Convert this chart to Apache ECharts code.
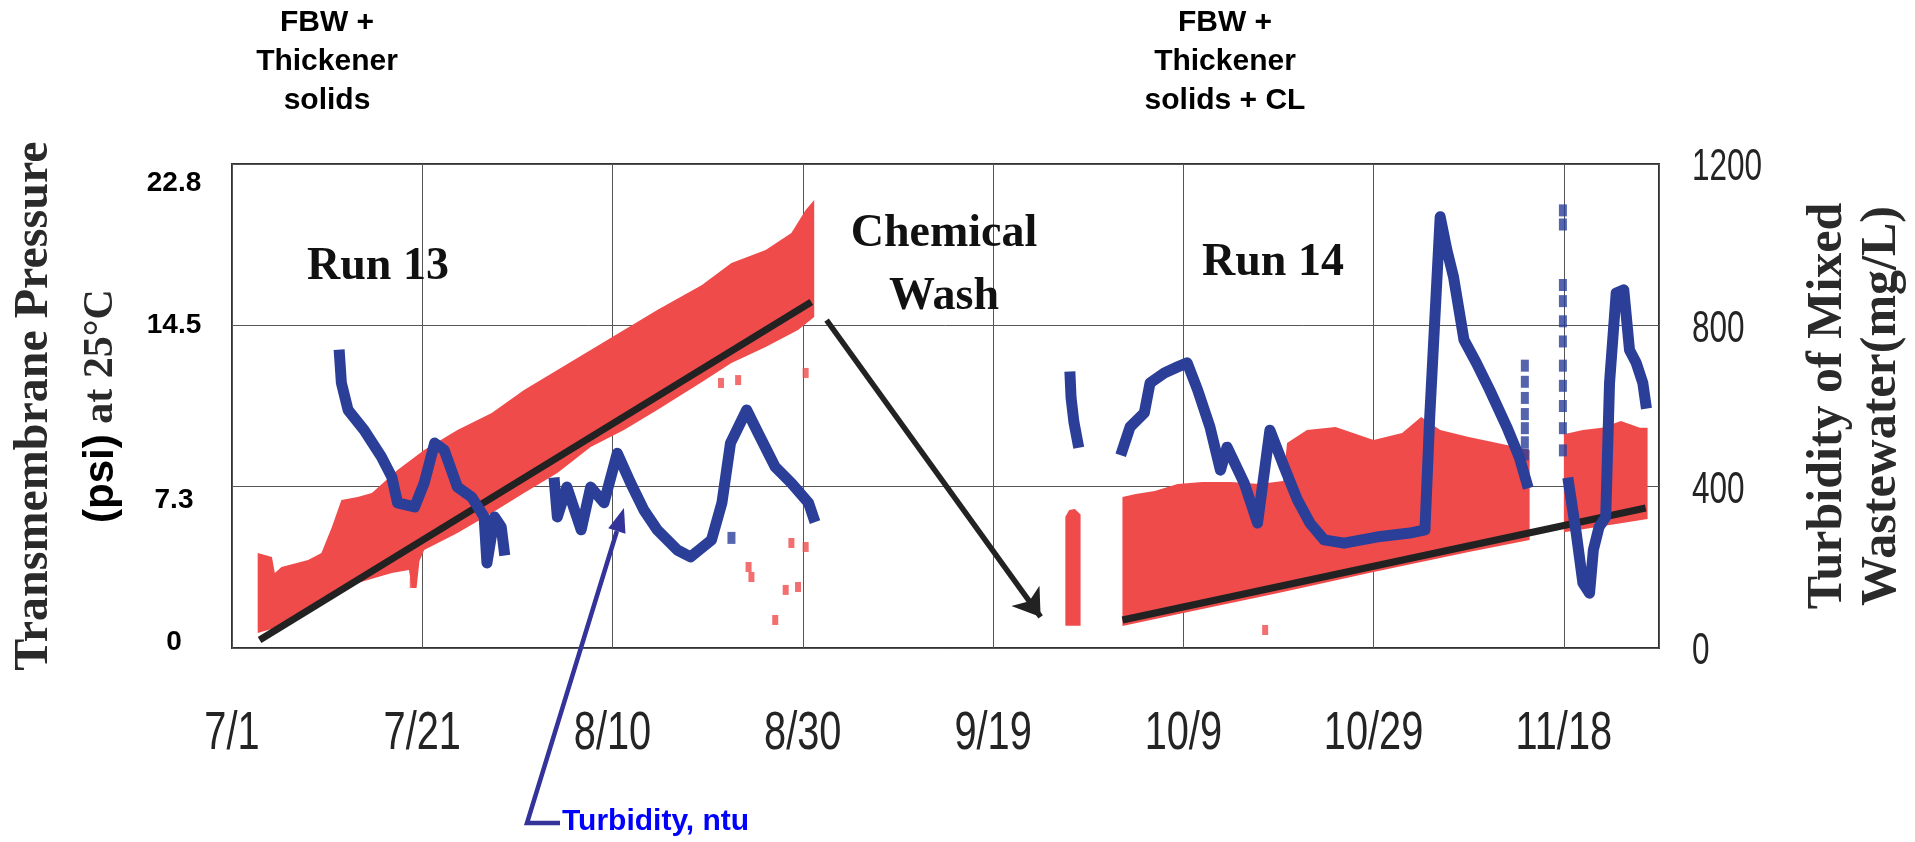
<!DOCTYPE html>
<html>
<head>
<meta charset="utf-8">
<script src="https://cdn.jsdelivr.net/npm/echarts@6/dist/echarts.min.js"></script>
<style>html,body{margin:0;padding:0;background:#fff}#c{width:1915px;height:842px}</style>
</head>
<body>
<div id="c"></div>
<script>
// ---- tick labels ----
const xTickLabels = ['7/1', '7/21', '8/10', '8/30', '9/19', '10/9', '10/29', '11/18']; // every 20 days from 7/1
const leftTickLabels = ['0', '7.3', '14.5', '22.8'];
const rightTickLabels = ['0', '400', '800', '1200'];

// ---- TMP (psi) scatter band, Run 13: [day since 7/1, psi] ----
const tmpRun13Top = [[2.7,4.27],[4.2,4.09],[4.5,3.37],[5.2,3.64],[8.0,3.95],[9.4,4.27],[10.5,5.44],[11.5,6.65],[13.2,6.79],[14.7,6.97],[17.4,8.00],[20.2,8.90],[23.7,9.80],[27.3,10.56],[30.7,11.59],[34.2,12.49],[37.7,13.39],[41.2,14.29],[44.7,15.19],[49.4,16.31],[52.5,17.30],[56.1,17.89],[58.8,18.65],[60.3,19.68],[61.2,20.13]];
const tmpRun13Bottom = [[2.7,0.67],[6.3,1.12],[9.7,2.02],[13.2,2.92],[16.8,3.37],[18.6,3.5],[18.9,2.7],[19.4,2.7],[19.7,3.9],[20.2,4.40],[23.7,5.17],[27.3,6.07],[30.7,6.97],[34.2,7.86],[37.7,9.03],[41.2,9.80],[44.7,10.70],[49.4,11.95],[52.5,12.81],[56.1,13.53],[59.5,14.29],[61.2,14.88]];
// ---- TMP band, short restart after wash ----
const tmpRestartTop = [[87.6,5.9],[88.0,6.2],[88.6,6.25],[89.2,6.0]];
const tmpRestartBottom = [[87.6,1.0],[89.2,1.0]];
// ---- TMP band, Run 14 ----
const tmpRun14Top = [[93.6,6.79],[95.0,6.92],[97.0,7.06],[99.4,7.37],[102.0,7.46],[105.0,7.46],[108.0,7.37],[110.5,7.5],[110.9,9.21],[113.0,9.80],[116.0,9.93],[120.0,9.35],[123.0,9.66],[125.0,10.38],[127.0,9.80],[130.0,9.48],[133.0,9.21],[136.4,8.90]];
const tmpRun14Bottom = [[93.6,0.99],[100.0,1.57],[110.0,2.47],[120.0,3.42],[130.0,4.31],[136.4,4.85]];
const tmpRun14bTop = [[140.0,9.6],[142.0,9.8],[144.0,9.9],[146.0,10.2],[148.0,9.9],[148.8,9.9]];
const tmpRun14bBottom = [[140.0,5.2],[148.8,5.8]];
// ---- isolated TMP points ----
const tmpOutliers = [[19.0,2.92],[51.4,11.91],[53.2,12.04],[60.3,12.36],[54.3,3.64],[54.6,3.19],[58.8,4.72],[60.3,4.54],[58.2,2.61],[59.5,2.74],[57.1,1.26],[108.6,0.81]];

// ---- TMP trend lines ----
const trendRun13 = [[2.9,0.36],[60.9,15.55]];
const trendRun14 = [[93.6,1.26],[148.6,6.29]];

// ---- Turbidity (mg/L) ----
const turbRun13a = [[11.3,726],[11.5,657],[12.2,590],[13.9,540],[15.7,474],[16.8,424],[17.4,360],[19.2,350],[20.2,409],[21.3,508],[22.3,491],[23.7,399],[25.2,374],[26.5,325],[26.8,211],[27.6,325],[28.3,300],[28.6,243]];
const turbRun13b = [[33.9,409],[34.2,325],[35.2,399],[36.7,293],[37.7,399],[39.1,360],[40.5,483],[41.9,409],[43.3,342],[44.7,293],[46.8,243],[48.2,226],[49.1,243],[50.4,268],[51.5,360],[52.4,508],[54.1,590],[55.3,533],[57.1,449],[58.8,409],[60.6,360],[61.1,325]];
const turbRestart = [[88.1,672],[88.2,620],[88.5,560],[88.9,510]];
const turbRun14a = [[93.6,491],[94.4,548],[95.9,583],[96.5,657],[98.0,682],[99.4,697],[100.4,707],[101.5,640],[102.8,548],[103.9,441],[104.6,498],[106.4,409],[107.8,310],[109.1,540],[110.6,449],[112.0,367],[113.3,310],[114.8,268],[116.9,260],[120.3,275],[123.8,285],[125.4,293],[125.9,573],[127.0,1069],[127.7,987],[128.4,920],[129.5,764],[130.8,707],[132.2,640],[134.0,548],[135.3,474],[136.1,409]];
const turbRun14b = [[140.5,409],[141.3,285],[142.0,161],[142.7,136],[143.1,243],[143.7,300],[144.4,325],[144.8,657],[145.5,880],[146.3,888],[146.9,739],[147.6,707],[148.3,657],[148.6,607]];
const turbSparse = [[52.5,273],[135.9,700],[135.9,660],[135.9,620],[135.9,580],[135.9,545],[135.9,510],[135.9,480],[139.9,1085],[139.9,1050],[139.9,900],[139.9,860],[139.9,810],[139.9,760],[139.9,700],[139.9,650],[139.9,600],[139.9,545],[139.9,490]];

// ---- annotations (data coordinates) ----
const washArrow = [[62.5,813],[85.0,77]];
const turbidityPointer = [41.2,347];

const RED = '#f04b4b', BLUE = '#2b3f99', BLACK = '#222';
const TICKCOLOR = '#242424';
const SERIF = "'Liberation Serif','Times New Roman',serif";
const SANS = "'Liberation Sans',Arial,sans-serif";

function bandSeries(top, bottom) {
  return {
    type: 'custom', xAxisIndex: 0, yAxisIndex: 0, z: 1, silent: true,
    data: [[0, 0]],
    renderItem: function (params, api) {
      const pts = top.map(p => api.coord(p)).concat(bottom.slice().reverse().map(p => api.coord(p)));
      return { type: 'polygon', shape: { points: pts }, style: { fill: RED } };
    }
  };
}
function turbSeries(seg) {
  return {
    type: 'line', xAxisIndex: 0, yAxisIndex: 1, z: 4, data: seg, showSymbol: false, silent: true,
    lineStyle: { color: BLUE, width: 11, cap: 'square', join: 'round' }
  };
}
function trendSeries(seg) {
  return {
    type: 'line', xAxisIndex: 0, yAxisIndex: 0, z: 3, data: seg, showSymbol: false, silent: true,
    lineStyle: { color: BLACK, width: 7, cap: 'butt' }
  };
}

const lbl = { fontFamily: SANS, fontWeight: 'bold', fontSize: 28, color: '#000' };
const leftRich = {
  l0: Object.assign({ padding: [0, 0, 12, 0] }, lbl),
  l1: Object.assign({ padding: [28, 0, 0, 0] }, lbl),
  l2: Object.assign({}, lbl),
  l3: Object.assign({ padding: [38, 0, 0, 0] }, lbl)
};

const chart = echarts.init(document.getElementById('c'), null, { renderer: 'canvas' });
const option = {
  animation: false,
  backgroundColor: '#fff',
  grid: { left: 232, right: 252, top: 164, bottom: 194, show: true, borderColor: '#333', borderWidth: 2 },
  xAxis: {
    type: 'value', min: 0, max: 150, interval: 20,
    axisLine: { show: false }, axisTick: { show: false },
    splitLine: { show: true, lineStyle: { color: '#555', width: 1 } },
    axisLabel: {
      margin: 86, verticalAlign: 'middle', fontFamily: SANS, fontSize: 53, color: TICKCOLOR,
      formatter: function (v) {
        const i = Math.round(v / 20);
        return (Math.abs(v - i * 20) < 1e-6 && xTickLabels[i]) ? xTickLabels[i] : '';
      }
    }
  },
  yAxis: [
    {
      type: 'value', min: 0, max: 21.75, interval: 7.25, position: 'left',
      axisLine: { show: false }, axisTick: { show: false }, splitLine: { show: false },
      axisLabel: {
        margin: 58, align: 'center',
        formatter: function (v, i) { return '{l' + i + '|' + leftTickLabels[i] + '}'; },
        rich: leftRich
      },
      name: '{a|Transmembrane Pressure}\n{b|(psi)}{c| at 25°C}',
      nameLocation: 'middle', nameRotate: 90, nameGap: 97,
      nameTextStyle: {
        rich: {
          a: { fontFamily: SERIF, fontWeight: 'bold', fontSize: 48, lineHeight: 67, color: '#2a2a2a' },
          b: { fontFamily: SANS, fontWeight: 'bold', fontSize: 42, lineHeight: 67, color: '#000' },
          c: { fontFamily: SERIF, fontWeight: 'bold', fontSize: 42, lineHeight: 67, color: '#2a2a2a' }
        }
      }
    },
    {
      type: 'value', min: 0, max: 1200, interval: 400, position: 'right',
      axisLine: { show: false }, axisTick: { show: false },
      splitLine: { show: true, lineStyle: { color: '#555', width: 1 } },
      axisLabel: {
        margin: 33, fontFamily: SANS, fontSize: 45, color: TICKCOLOR,
        formatter: function (v, i) { return rightTickLabels[i] !== undefined ? rightTickLabels[i] : ''; }
      },
      name: '{a|Turbidity of Mixed}\n{a|Wastewater(mg/L)}',
      nameLocation: 'middle', nameRotate: 90, nameGap: 140,
      nameTextStyle: {
        rich: { a: { fontFamily: SERIF, fontWeight: 'bold', fontSize: 50, lineHeight: 54, color: '#2a2a2a' } }
      }
    }
  ],
  series: [
    bandSeries(tmpRun13Top, tmpRun13Bottom),
    bandSeries(tmpRestartTop, tmpRestartBottom),
    bandSeries(tmpRun14Top, tmpRun14Bottom),
    bandSeries(tmpRun14bTop, tmpRun14bBottom),
    {
      type: 'scatter', xAxisIndex: 0, yAxisIndex: 0, z: 2, data: tmpOutliers, silent: true,
      symbol: 'rect', symbolSize: [6, 10], itemStyle: { color: RED }
    },
    trendSeries(trendRun13),
    trendSeries(trendRun14),
    turbSeries(turbRun13a),
    turbSeries(turbRun13b),
    turbSeries(turbRestart),
    turbSeries(turbRun14a),
    turbSeries(turbRun14b),
    {
      type: 'scatter', xAxisIndex: 0, yAxisIndex: 1, z: 4, data: turbSparse, silent: true,
      symbol: 'rect', symbolSize: [8, 12], itemStyle: { color: BLUE }
    },
    {
      type: 'lines', coordinateSystem: 'cartesian2d', xAxisIndex: 0, yAxisIndex: 1, z: 5, silent: true,
      symbol: ['none', 'arrow'], symbolSize: 26,
      lineStyle: { color: BLACK, width: 5.5, opacity: 1 },
      data: [{ coords: washArrow }]
    }
  ],
  graphic: [
    { id: 'noteL', type: 'text', x: 327, y: 62, style: { text: 'FBW +\nThickener\nsolids', fontFamily: SANS, fontWeight: 'bold', fontSize: 30, lineHeight: 39, fill: '#000', align: 'center', verticalAlign: 'middle' } },
    { id: 'noteR', type: 'text', x: 1225, y: 62, style: { text: 'FBW +\nThickener\nsolids + CL', fontFamily: SANS, fontWeight: 'bold', fontSize: 30, lineHeight: 39, fill: '#000', align: 'center', verticalAlign: 'middle' } },
    { id: 'run13', type: 'text', x: 378, y: 267, z: 10, style: { text: 'Run 13', fontFamily: SERIF, fontWeight: 'bold', fontSize: 46, fill: '#111', align: 'center', verticalAlign: 'middle' } },
    { id: 'run14', type: 'text', x: 1273, y: 263, z: 10, style: { text: 'Run 14', fontFamily: SERIF, fontWeight: 'bold', fontSize: 46, fill: '#111', align: 'center', verticalAlign: 'middle' } },
    { id: 'wash', type: 'text', x: 944, y: 266, z: 10, style: { text: 'Chemical\nWash', fontFamily: SERIF, fontWeight: 'bold', fontSize: 46, lineHeight: 63, fill: '#111', align: 'center', verticalAlign: 'middle' } }
  ]
};
chart.setOption(option);

// Turbidity pointer: elbow and label below the axis, tip at a data location
const tip = chart.convertToPixel({ xAxisIndex: 0, yAxisIndex: 1 }, turbidityPointer);
const elbow = [527, 823], stub = [560, 823];
const dx = tip[0] - elbow[0], dy = tip[1] - elbow[1];
const len = Math.sqrt(dx * dx + dy * dy), ux = dx / len, uy = dy / len;
const headL = 24, headW = 9;
const base = [tip[0] - ux * headL, tip[1] - uy * headL];
chart.setOption({
  graphic: [
    { id: 'ptrLine', type: 'polyline', z: 20, shape: { points: [stub, elbow, base] }, style: { stroke: '#333399', lineWidth: 4.5, fill: null, lineJoin: 'miter' } },
    { id: 'ptrHead', type: 'polygon', z: 20, shape: { points: [tip, [base[0] - uy * headW, base[1] + ux * headW], [base[0] + uy * headW, base[1] - ux * headW]] }, style: { fill: '#333399' } },
    { id: 'ptrText', type: 'text', x: 562, y: 822, z: 20, style: { text: 'Turbidity, ntu', fontFamily: SANS, fontWeight: 'bold', fontSize: 30, fill: '#0000ff', align: 'left', verticalAlign: 'middle' } }
  ]
});

// The scanned tick labels are tall and narrow: condense the axis label glyphs horizontally
function condenseTickLabels() {
  const xs = new Set(xTickLabels), rs = new Set(rightTickLabels);
  const zr = chart.getZr();
  zr.storage.getRoots().forEach(function (root) {
    if (!root.traverse) return;
    root.traverse(function (el) {
      if (el.type !== 'text' || !el.style || el.__condensed) return;
      const t = el.style.text;
      if (xs.has(t)) { el.scaleX = 0.75; el.__condensed = true; el.markRedraw(); }
      else if (rs.has(t) && el.style.fill === TICKCOLOR) { el.scaleX = 0.7; el.y += 4; el.__condensed = true; el.markRedraw(); }
    });
  });
  zr.refreshImmediately();
}
condenseTickLabels();
chart.on('finished', condenseTickLabels);
</script>
</body>
</html>
